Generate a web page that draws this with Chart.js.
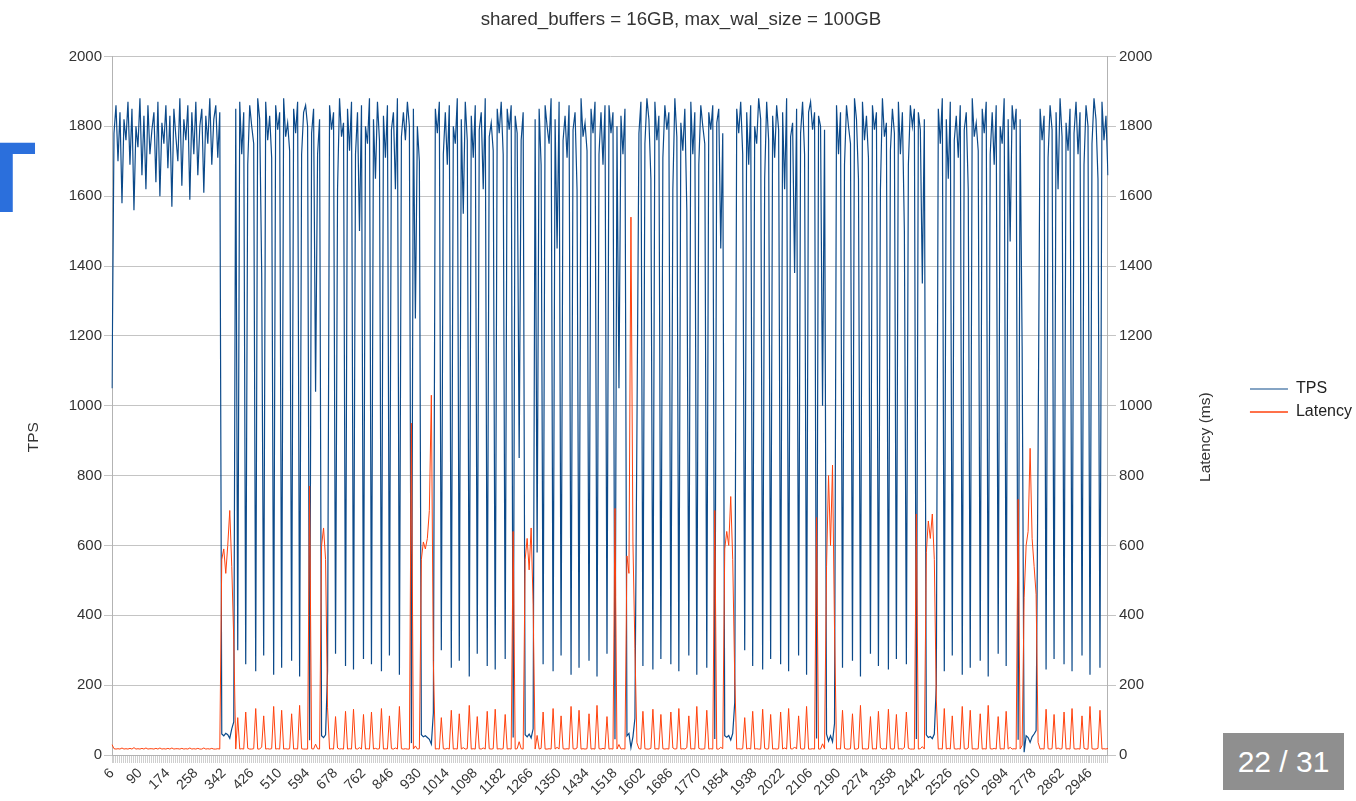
<!DOCTYPE html>
<html>
<head>
<meta charset="utf-8">
<script src="https://cdn.jsdelivr.net/npm/chart.js@4.4.1/dist/chart.umd.min.js"></script>
<style>
  html, body { margin: 0; padding: 0; background: #ffffff; }
  #wrap { position: relative; width: 1356px; height: 801px; overflow: hidden; }
  #c { position: absolute; left: 0; top: 0; }
  #slideT { position: absolute; left: -25px; top: 127px; font-family: "Liberation Sans", Arial, sans-serif; font-weight: bold; font-size: 100px; line-height: 100px; color: #2b6fdc; }
  #pager { position: absolute; left: 1223px; top: 733px; width: 121px; height: 57px; background: #8f8f8f; color: #ffffff; font-family: "Liberation Sans", Arial, sans-serif; font-size: 30px; line-height: 57px; text-align: center; }
</style>
</head>
<body>
<div id="wrap">
  <canvas id="c" width="1356" height="801"></canvas>
  <div id="slideT">T</div>
  <div id="pager">22 / 31</div>
</div>
<script>
// Elapsed time (s) for each sample
const categories = [
6,12,18,24,30,36,42,48,54,60,66,72,78,84,90,96,102,108,114,120,
126,132,138,144,150,156,162,168,174,180,186,192,198,204,210,216,222,228,234,240,
246,252,258,264,270,276,282,288,294,300,306,312,318,324,330,336,342,348,354,360,
366,372,378,384,390,396,402,408,414,420,426,432,438,444,450,456,462,468,474,480,
486,492,498,504,510,516,522,528,534,540,546,552,558,564,570,576,582,588,594,600,
606,612,618,624,630,636,642,648,654,660,666,672,678,684,690,696,702,708,714,720,
726,732,738,744,750,756,762,768,774,780,786,792,798,804,810,816,822,828,834,840,
846,852,858,864,870,876,882,888,894,900,906,912,918,924,930,936,942,948,954,960,
966,972,978,984,990,996,1002,1008,1014,1020,1026,1032,1038,1044,1050,1056,1062,1068,1074,1080,
1086,1092,1098,1104,1110,1116,1122,1128,1134,1140,1146,1152,1158,1164,1170,1176,1182,1188,1194,1200,
1206,1212,1218,1224,1230,1236,1242,1248,1254,1260,1266,1272,1278,1284,1290,1296,1302,1308,1314,1320,
1326,1332,1338,1344,1350,1356,1362,1368,1374,1380,1386,1392,1398,1404,1410,1416,1422,1428,1434,1440,
1446,1452,1458,1464,1470,1476,1482,1488,1494,1500,1506,1512,1518,1524,1530,1536,1542,1548,1554,1560,
1566,1572,1578,1584,1590,1596,1602,1608,1614,1620,1626,1632,1638,1644,1650,1656,1662,1668,1674,1680,
1686,1692,1698,1704,1710,1716,1722,1728,1734,1740,1746,1752,1758,1764,1770,1776,1782,1788,1794,1800,
1806,1812,1818,1824,1830,1836,1842,1848,1854,1860,1866,1872,1878,1884,1890,1896,1902,1908,1914,1920,
1926,1932,1938,1944,1950,1956,1962,1968,1974,1980,1986,1992,1998,2004,2010,2016,2022,2028,2034,2040,
2046,2052,2058,2064,2070,2076,2082,2088,2094,2100,2106,2112,2118,2124,2130,2136,2142,2148,2154,2160,
2166,2172,2178,2184,2190,2196,2202,2208,2214,2220,2226,2232,2238,2244,2250,2256,2262,2268,2274,2280,
2286,2292,2298,2304,2310,2316,2322,2328,2334,2340,2346,2352,2358,2364,2370,2376,2382,2388,2394,2400,
2406,2412,2418,2424,2430,2436,2442,2448,2454,2460,2466,2472,2478,2484,2490,2496,2502,2508,2514,2520,
2526,2532,2538,2544,2550,2556,2562,2568,2574,2580,2586,2592,2598,2604,2610,2616,2622,2628,2634,2640,
2646,2652,2658,2664,2670,2676,2682,2688,2694,2700,2706,2712,2718,2724,2730,2736,2742,2748,2754,2760,
2766,2772,2778,2784,2790,2796,2802,2808,2814,2820,2826,2832,2838,2844,2850,2856,2862,2868,2874,2880,
2886,2892,2898,2904,2910,2916,2922,2928,2934,2940,2946,2952,2958,2964,2970,2976,2982,2988,2994,3000
];

// Labelled x ticks
const tickLabels = [6,90,174,258,342,426,510,594,678,762,846,930,1014,1098,1182,1266,1350,1434,1518,1602,
1686,1770,1854,1938,2022,2106,2190,2274,2358,2442,2526,2610,2694,2778,2862,2946];

// TPS series (left axis)
const tps = [
1050,1780,1860,1700,1840,1580,1820,1760,1870,1690,
1850,1560,1800,1740,1880,1660,1830,1620,1860,1720,
1790,1840,1640,1870,1600,1810,1750,1860,1680,1830,
1570,1850,1770,1700,1880,1630,1820,1760,1860,1590,
1840,1720,1870,1660,1800,1850,1610,1830,1750,1880,
1690,1820,1860,1710,1840,60,55,62,58,48,
75,95,1850,300,1870,1720,1840,260,1690,1860,
1800,1750,240,1880,1820,1380,285,1870,1760,1830,
1710,230,1860,1790,1840,250,1880,1770,1810,1730,
270,1850,1780,1870,225,1720,1840,1860,1800,42,
1780,1850,1040,1720,1820,55,50,58,240,1860,
1790,1840,290,1620,1880,1770,1810,255,1850,1730,
1870,245,1720,1840,1500,1860,275,1800,1750,1880,
260,1820,1650,1870,1760,240,1830,1710,1860,285,
1790,1840,1620,1880,230,1770,1840,1760,1870,1800,
34,1850,1250,1800,1700,58,52,55,50,45,
31,120,1850,1780,1870,300,1720,1840,1690,1860,
250,1800,1750,1880,270,1820,1550,1870,1760,225,
1830,1710,1860,290,1790,1840,1620,1880,255,1770,
1810,1730,245,1850,1780,1870,1720,275,1850,1790,
1860,50,1830,1780,850,1760,1840,58,52,60,
49,75,1820,580,1850,1690,260,1860,1800,1750,
1880,240,1820,1450,1870,285,1760,1830,1710,1860,
230,1790,1840,1620,250,1880,1770,1810,1730,270,
1850,1780,1870,225,1720,1840,1690,1860,290,1860,
1780,1840,45,1800,1050,1830,1720,1850,55,62,
21,52,105,930,1780,1870,255,1750,1880,1820,
1650,245,1870,1760,1830,275,1710,1860,1790,1840,
260,1620,1880,1770,240,1810,1730,1850,1560,285,
1870,1720,1840,230,1690,1860,1800,1750,250,1840,
1790,1860,46,1810,1850,1450,1780,55,51,56,
43,62,150,1850,1780,1870,1720,300,1840,1690,
1860,255,1800,1750,1880,1820,245,1650,1870,1760,
275,1830,1710,1860,1790,260,1840,1620,1880,240,
1770,1810,1380,1850,285,1780,1870,1720,230,1840,
1870,1790,1840,47,1830,1800,1000,1790,60,40,
55,38,90,1860,1720,1840,250,1690,1860,1800,
1750,270,1880,1820,1650,225,1870,1760,1830,1710,
290,1860,1790,1840,255,1620,1880,1770,1810,245,
1730,1850,1780,275,1870,1720,1840,1500,260,1690,
1860,1800,1850,46,1840,1790,1350,1820,58,50,
53,47,60,200,1850,1750,1880,240,1820,1650,
1870,285,1760,1830,1710,1860,230,1790,1840,1620,
250,1880,1770,1810,1730,270,1850,1780,1870,225,
1720,1840,1690,1860,290,1800,1750,1880,255,1820,
1470,1860,1790,1850,44,1820,1170,8,55,50,
36,52,60,70,880,1850,1760,1830,245,1710,
1860,1790,275,1840,1620,1880,1770,260,1810,1730,
1850,240,1780,1870,1720,1840,285,1690,1860,1800,
230,1750,1880,1820,1650,250,1870,1760,1830,1660
];

// Latency series in ms (right axis)
const latency = [
30,18,17,18,17,20,17,18,17,19,
17,21,17,18,17,19,17,20,17,18,
18,17,19,17,20,17,18,17,19,17,
20,17,18,18,17,19,17,18,17,20,
17,18,17,19,17,17,20,17,18,17,
19,17,17,18,17,560,590,520,600,700,
540,330,17,107,17,18,17,123,19,17,
17,18,133,17,17,23,112,17,18,17,
18,139,17,18,17,128,17,18,17,18,
118,17,18,17,142,18,17,17,17,770,
18,17,31,18,17,600,650,560,135,17,
18,17,110,20,17,18,17,125,17,18,
17,131,18,17,21,17,116,17,18,17,
123,17,19,17,18,133,17,18,17,112,
18,17,20,17,139,18,17,18,17,17,
950,17,26,17,18,560,610,590,620,700,
1030,270,17,18,17,107,18,17,19,17,
128,17,18,17,118,17,21,17,18,142,
17,18,17,110,18,17,20,17,125,18,
17,18,131,17,18,17,18,116,17,18,
17,640,17,18,38,18,17,560,620,530,
650,430,17,56,17,19,123,17,17,18,
17,133,17,22,17,112,18,17,18,17,
139,18,17,20,128,17,18,17,18,118,
17,18,17,142,18,17,19,17,110,17,
18,17,706,17,30,17,18,17,570,520,
1540,610,305,35,18,17,125,18,17,17,
19,131,17,18,17,116,18,17,18,17,
123,20,17,18,133,17,18,17,21,112,
17,18,17,139,19,17,17,18,128,17,
18,17,700,17,17,22,18,590,640,600,
740,560,220,17,18,17,18,107,17,19,
17,125,17,18,17,17,131,19,17,18,
116,17,18,17,18,123,17,20,17,133,
18,17,23,17,112,18,17,18,139,17,
17,18,17,680,17,17,32,18,540,800,
600,830,360,17,18,17,128,19,17,17,
18,118,17,17,19,142,17,18,17,18,
110,17,18,17,125,20,17,18,17,131,
18,17,18,116,17,18,17,21,123,19,
17,17,17,690,17,18,24,17,580,670,
620,690,560,160,17,18,17,133,17,19,
17,112,18,17,18,17,139,18,17,20,
128,17,18,17,18,118,17,18,17,142,
18,17,19,17,110,17,18,17,125,17,
22,17,18,17,732,17,28,450,600,640,
878,620,540,460,36,17,18,17,131,18,
17,18,116,17,20,17,18,123,17,18,
17,133,18,17,18,17,112,19,17,17,
139,18,17,17,19,128,17,18,17,19
];

const yTicksMin = 0, yTicksMax = 2000, yStep = 200;
const leftTitle = 'TPS';
const rightTitle = 'Latency (ms)';
const FONT = '"Liberation Sans", Arial, sans-serif';

Chart.defaults.font.family = FONT;
Chart.defaults.color = '#333333';

// Axis titles drawn rotated counter-clockwise on both sides (as in the reference)
const axisTitles = {
  id: 'axisTitles',
  afterDraw(chart) {
    const ctx = chart.ctx;
    const ys = chart.scales.y, yr = chart.scales.y1;
    const cy = chart.chartArea.top + (chart.chartArea.bottom - chart.chartArea.top) * 0.545;
    ctx.save();
    ctx.font = '15.5px ' + FONT;
    ctx.fillStyle = '#333333';
    ctx.textAlign = 'center';
    ctx.textBaseline = 'middle';
    [[ys.left + 34, leftTitle], [yr.left + 98, rightTitle]].forEach(([x, t]) => {
      ctx.save();
      ctx.translate(x, cy);
      ctx.rotate(-Math.PI / 2);
      ctx.fillText(t, 0, 0);
      ctx.restore();
    });
    ctx.restore();
  }
};

new Chart(document.getElementById('c'), {
  type: 'line',
  data: {
    labels: categories,
    datasets: [
      { label: 'TPS', data: tps, yAxisID: 'y', borderColor: '#0c4a8a', backgroundColor: '#0c4a8a',
        borderWidth: 1.2, pointRadius: 0, tension: 0, order: 1 },
      { label: 'Latency', data: latency, yAxisID: 'y1', borderColor: '#ff420e', backgroundColor: '#ff420e',
        borderWidth: 1, pointRadius: 0, tension: 0, order: 0 }
    ]
  },
  plugins: [axisTitles],
  options: {
    responsive: false,
    animation: false,
    layout: { padding: { left: 0, right: -6, top: 0, bottom: 0 } },
    plugins: {
      title: { display: true, text: 'shared_buffers = 16GB, max_wal_size = 100GB',
        font: { size: 18.7, weight: 'normal' }, color: '#333333', padding: { top: 9, bottom: 25 } },
      legend: { position: 'right',
        labels: { boxWidth: 38, boxHeight: 0, padding: 7, font: { size: 16 }, color: '#222222',
          sort: (a, b) => a.datasetIndex - b.datasetIndex } },
      tooltip: { enabled: false }
    },
    scales: {
      x: {
        afterFit: (s) => { s.height = 46; },
        ticks: { autoSkip: false, maxRotation: 45, minRotation: 45, padding: 2, color: '#333333',
          font: { size: 14 },
          callback: function (v, i) { const c = categories[i]; return tickLabels.includes(c) ? String(c) : ''; } },
        grid: { drawOnChartArea: false, drawTicks: true, tickLength: 8, color: '#cfcfcf' },
        border: { color: '#b3b3b3' }
      },
      y: {
        position: 'left', min: yTicksMin, max: yTicksMax,
        afterFit: (s) => { s.width = 112; },
        ticks: { stepSize: yStep, padding: 2, color: '#333333', font: { size: 15 }, callback: (v) => String(v) },
        grid: { color: '#c4c4c4', tickLength: 8 },
        border: { color: '#b3b3b3' }
      },
      y1: {
        position: 'right', min: yTicksMin, max: yTicksMax,
        afterFit: (s) => { s.width = 135; },
        ticks: { stepSize: yStep, padding: 3, color: '#333333', font: { size: 15 }, callback: (v) => String(v) },
        grid: { drawOnChartArea: false, tickLength: 8, color: '#c4c4c4' },
        border: { color: '#b3b3b3' }
      }
    }
  }
});
</script>
</body>
</html>
